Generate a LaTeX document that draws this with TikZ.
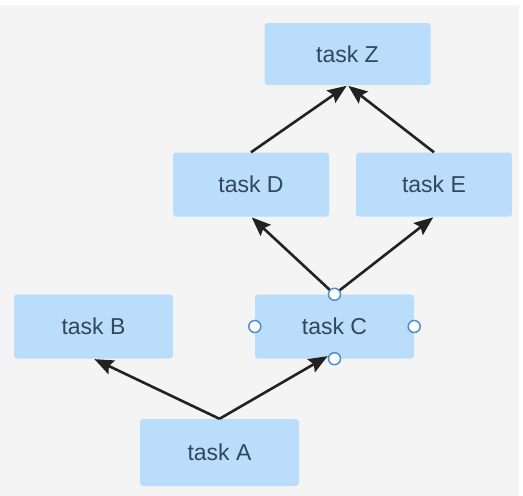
\documentclass[tikz,border=0pt]{standalone}
\usepackage{fontspec}
\setmainfont{Liberation Sans}
\usetikzlibrary{arrows.meta}
\definecolor{bg}{HTML}{F4F4F4}
\definecolor{boxfill}{HTML}{B9DDFB}
\definecolor{boxtext}{HTML}{33475B}
\definecolor{portblue}{HTML}{4A90D9}
\definecolor{linecol}{HTML}{222222}
\begin{document}
\begin{tikzpicture}[x=1pt,y=-1pt,
  taskbox/.style={fill=boxfill, draw=none, rounded corners=3pt, minimum width=156pt, minimum height=64pt, inner sep=0pt, text=boxtext, font=\fontsize{23}{26}\selectfont},
  conn/.style={draw=linecol, line width=2.6pt, -{Stealth[length=19pt,width=15pt,inset=3pt]}, shorten >=1pt},
  port/.style={circle, draw=portblue, fill=white, line width=1.5pt, minimum size=12pt, inner sep=0pt}
]
\useasboundingbox (0,0) rectangle (523,496);
\fill[white] (0,0) rectangle (523,496);
\fill[bg] (0,5) rectangle (519,496);
\node[taskbox, minimum width=166pt, minimum height=62pt] (Z) at (347.5,54) {task Z};
\node[taskbox] (D) at (251,184.5) {task D};
\node[taskbox] (E) at (434,184.5) {task E};
\node[taskbox, minimum width=159pt] (C) at (334.5,326.5) {task C};
\node[taskbox, minimum width=159pt] (B) at (93.5,326.5) {task B};
\node[taskbox, minimum width=159pt, minimum height=67pt] (A) at (219.5,452.5) {task A};
\draw[conn] (A.north) -- (B.south);
\draw[conn] (A.north) -- ([shift={(-6pt,3pt)}]C.south);
\draw[conn] (C.north) -- (D.south);
\draw[conn] (C.north) -- (E.south);
\draw[conn] (D.north) -- (Z.south);
\draw[conn] (E.north) -- (Z.south);
\node[port] (Ct) at (C.north) {};
\node[port] (Cb) at (C.south) {};
\node[port] (Cl) at (C.west) {};
\node[port] (Cr) at (C.east) {};
\end{tikzpicture}
\end{document}
